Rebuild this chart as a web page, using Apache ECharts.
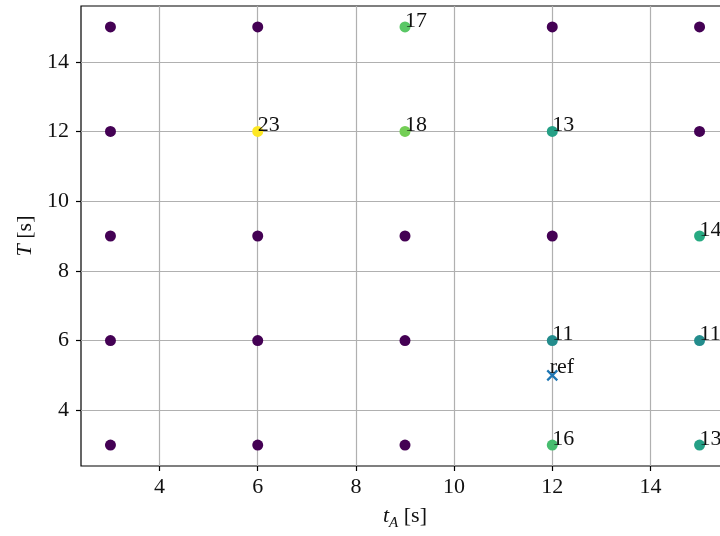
<!DOCTYPE html>
<html>
<head>
<meta charset="utf-8">
<script src="https://cdn.jsdelivr.net/npm/echarts@6/dist/echarts.min.js"></script>
<style>
  html, body { margin: 0; padding: 0; background: #fff; }
  #chart { width: 720px; height: 536px; }
</style>
</head>
<body>
<div id="chart"></div>
<script>
// Sampled grid of window lengths and the count measured at each combination
const tAValues = [3, 6, 9, 12, 15];
const TValues = [3, 6, 9, 12, 15];
// counts[i][j] -> T = TValues[i], tA = tAValues[j]
const counts = [
  [0, 0, 0, 16, 13],
  [0, 0, 0, 11, 11],
  [0, 0, 0, 0, 14],
  [0, 23, 18, 13, 0],
  [0, 0, 17, 0, 0]
];
const refPoint = [12, 5];
const refLabel = 'ref';
const tickValues = [4, 6, 8, 10, 12, 14];
const viridis = ['#440154', '#472d7b', '#3b528b', '#2c728e', '#21918c', '#28ae80', '#5ec962', '#addc30', '#fde725'];

const points = [];
TValues.forEach((T, i) => {
  tAValues.forEach((tA, j) => {
    points.push([tA, T, counts[i][j]]);
  });
});
const maxCount = Math.max(...counts.flat());

const FONT = 'Liberation Serif';
const textColor = '#111';
const dotSize = 11;

const chart = echarts.init(document.getElementById('chart'), null, { renderer: 'canvas' });
chart.setOption({
  animation: false,
  backgroundColor: '#fff',
  textStyle: { fontFamily: FONT },
  grid: {
    left: 81, top: 6, right: -9, bottom: 70,
    containLabel: false,
    outerBoundsMode: 'none',
    show: true, borderColor: '#000', borderWidth: 1.2, backgroundColor: 'transparent'
  },
  visualMap: {
    show: false,
    type: 'continuous',
    seriesIndex: 0,
    dimension: 2,
    min: 0,
    max: maxCount,
    inRange: { color: viridis }
  },
  xAxis: {
    type: 'value',
    min: 2.4,
    max: 15.6,
    axisLine: { show: false },
    axisTick: { show: true, length: 5, customValues: tickValues, lineStyle: { color: '#000', width: 1.2 } },
    axisLabel: { customValues: tickValues, margin: 10, fontSize: 22, color: textColor, fontFamily: FONT },
    splitLine: { show: true, lineStyle: { color: '#b0b0b0', width: 1.2 } },
    name: '{i|t}{sub|A} [s]',
    nameLocation: 'middle',
    nameGap: 36,
    nameTextStyle: {
      fontSize: 22, color: textColor, fontFamily: FONT,
      rich: {
        i: { fontStyle: 'italic', fontSize: 22, fontFamily: FONT, color: textColor },
        sub: { fontStyle: 'italic', fontSize: 15, fontFamily: FONT, color: textColor, verticalAlign: 'bottom', padding: [14, 0, 0, 0] }
      }
    }
  },
  yAxis: {
    type: 'value',
    min: 2.4,
    max: 15.6,
    axisLine: { show: false },
    axisTick: { show: true, length: 5, customValues: tickValues, lineStyle: { color: '#000', width: 1.2 } },
    axisLabel: { customValues: tickValues, margin: 12, fontSize: 22, color: textColor, fontFamily: FONT },
    splitLine: { show: true, lineStyle: { color: '#b0b0b0', width: 1.2 } },
    name: '{i|T} [s]',
    nameLocation: 'middle',
    nameGap: 43,
    nameTextStyle: {
      fontSize: 22, color: textColor, fontFamily: FONT,
      rich: { i: { fontStyle: 'italic', fontSize: 22, fontFamily: FONT, color: textColor } }
    }
  },
  series: [
    {
      type: 'scatter',
      data: points,
      symbol: 'circle',
      symbolSize: dotSize,
      clip: false,
      itemStyle: { opacity: 1 },
      label: {
        show: true,
        position: [dotSize / 2, dotSize / 2 + 5],
        align: 'left',
        verticalAlign: 'bottom',
        fontSize: 22,
        fontFamily: FONT,
        color: textColor,
        opacity: 1,
        formatter: p => (p.value[2] > 0 ? String(p.value[2]) : '')
      },
      z: 3
    },
    {
      type: 'scatter',
      data: [refPoint],
      symbol: 'path://M0,0L10,10M10,0L0,10',
      symbolSize: 10,
      clip: false,
      itemStyle: { color: 'none', borderColor: '#1f77b4', borderWidth: 2.2, opacity: 1 },
      label: {
        show: true,
        position: [5, 10],
        align: 'left',
        verticalAlign: 'bottom',
        fontSize: 22,
        fontFamily: FONT,
        color: textColor,
        opacity: 1,
        formatter: () => refLabel
      },
      z: 4
    }
  ]
});
</script>
</body>
</html>
